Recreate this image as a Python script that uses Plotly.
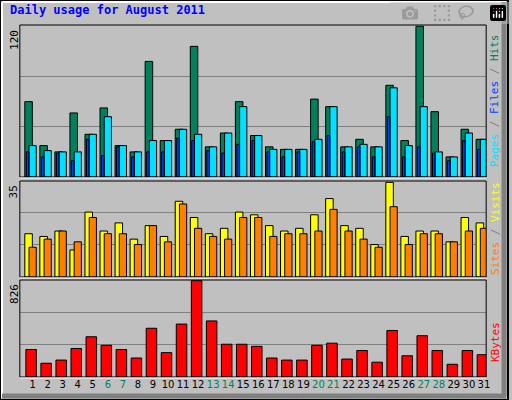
import plotly.graph_objects as go

days = list(range(1, 32))
day_labels = [str(d) for d in days]
weekends = [6, 7, 13, 14, 20, 21, 27, 28]
hits = [60,25,20,51,34,55,25,20,92,29,38,104,24,35,60,33,24,22,22,62,56,24,30,24,73,29,120,52,16,38,30]
files = [25,21,20,20,34,48,25,20,29,29,38,34,24,35,56,33,22,22,22,30,56,24,26,24,71,25,56,20,16,35,30]
pages = [20,16,19,13,30,17,24,16,20,20,31,29,21,19,26,29,20,16,20,28,33,20,24,16,48,16,24,19,13,29,22]
sites = [16,15,17,10,24,17,20,14,19,15,28,22,16,18,24,23,19,17,18,23,29,19,18,12,35,15,17,17,13,22,20]
visits = [11,14,17,13,22,16,16,12,19,13,27,18,15,14,22,22,15,16,16,17,25,17,14,11,26,12,16,16,13,17,18]
kbytes = [236,118,145,245,345,272,236,163,418,209,454,826,481,281,281,263,163,145,145,272,290,154,227,127,399,182,354,227,109,227,191]

BG = "#C0C0C0"
fig = go.Figure()

def bar(y, ax, color, off, w):
    fig.add_trace(go.Bar(x=days, y=y, offset=off, width=w, marker=dict(color=color, line=dict(color="black", width=1)),
                         xaxis="x" + ax, yaxis="y" + ax, showlegend=False, hoverinfo="skip"))

bar(hits, "", "#00805C", -0.52, 0.5)
bar(files, "", "#00E0FF", -0.24, 0.48)
bar(pages, "", "#0040FF", -0.42, 0.17)
bar(sites, "2", "#FFFF00", -0.52, 0.5)
bar(visits, "2", "#FF8000", -0.24, 0.48)
bar(kbytes, "3", "#FF0000", -0.45, 0.7)

xr = [0.15, 31.15]
common_x = dict(range=xr, showgrid=False, zeroline=False, showline=False, fixedrange=True)
ticktext = [f'<span style="color:#00805C">{d}</span>' if d in weekends else str(d) for d in days]
fig.update_layout(
    width=512, height=400, margin=dict(l=0, r=0, t=0, b=0),
    paper_bgcolor=BG, plot_bgcolor=BG, barmode="overlay",
    font=dict(family="DejaVu Sans Mono", size=11, color="black"),
    xaxis=dict(domain=[20/512, 490/512], anchor="y", showticklabels=False, **common_x),
    xaxis2=dict(domain=[20/512, 490/512], anchor="y2", showticklabels=False, **common_x),
    xaxis3=dict(domain=[20/512, 490/512], anchor="y3", tickvals=days, ticktext=ticktext, tickangle=0,
                tickfont=dict(family="DejaVu Sans", size=10), ticks="", ticklen=0, **common_x),
    yaxis=dict(domain=[1-177/400, 1-25/400], range=[0, 121], tickvals=[40, 80], showticklabels=False,
               gridcolor="#808080", zeroline=False, fixedrange=True),
    yaxis2=dict(domain=[1-277/400, 1-181/400], range=[0, 35.5], tickvals=[12, 24], showticklabels=False,
                gridcolor="#808080", zeroline=False, fixedrange=True),
    yaxis3=dict(domain=[1-377/400, 1-280/400], range=[0, 832], tickvals=[275, 550], showticklabels=False,
                gridcolor="#808080", zeroline=False, fixedrange=True),
)

shapes = [
    dict(type="rect", xref="paper", yref="paper", x0=0, x1=1, y0=0, y1=1, line=dict(color="black", width=2)),
    dict(type="line", xref="paper", yref="paper", x0=2/512, x1=2/512, y0=0.005, y1=0.995, line=dict(color="white", width=2)),
    dict(type="line", xref="paper", yref="paper", x0=0.004, x1=0.996, y0=1-2/400, y1=1-2/400, line=dict(color="white", width=2)),
    dict(type="line", xref="paper", yref="paper", x0=0.004, x1=0.996, y0=4/400, y1=4/400, line=dict(color="#808080", width=5)),
    dict(type="line", xref="paper", yref="paper", x0=1-4/512, x1=1-4/512, y0=0.01, y1=0.995, line=dict(color="#808080", width=5)),
]
for lo, hi in [(25, 177), (181, 277), (280, 377)]:
    shapes.append(dict(type="rect", xref="paper", yref="paper", x0=20/512, x1=490/512, y0=1-hi/400, y1=1-lo/400,
                       line=dict(color="black", width=1)))
    shapes.append(dict(type="line", xref="paper", yref="paper", x0=20/512, x1=490/512, y0=1-(hi+1)/400, y1=1-(hi+1)/400,
                       line=dict(color="white", width=1)))
fig.update_layout(shapes=shapes)

anns = [
    dict(text="<b>Daily usage for August 2011</b>", x=8/512, y=1-10/400, xanchor="left", yanchor="middle",
         font=dict(family="DejaVu Sans Mono", size=12, color="#0000FF")),
    dict(text="120", x=14/512, y=1-28/400, textangle=-90, xanchor="center", yanchor="top"),
    dict(text="35", x=14/512, y=1-183/400, textangle=-90, xanchor="center", yanchor="top"),
    dict(text="826", x=14/512, y=1-282/400, textangle=-90, xanchor="center", yanchor="top"),
    dict(text='<span style="color:#00E0FF">Pages</span><span style="color:#808080"> / </span><span style="color:#0040FF">Files</span><span style="color:#808080"> / </span><span style="color:#00805C">Hits</span>',
         x=499/512, y=1-101/400, textangle=-90, xanchor="center", yanchor="middle"),
    dict(text='<span style="color:#FF8000">Sites</span><span style="color:#808080"> / </span><span style="color:#FFFF00">Visits</span>',
         x=499/512, y=1-229/400, textangle=-90, xanchor="center", yanchor="middle"),
    dict(text='<span style="color:#FF0000">KBytes</span>', x=499/512, y=1-342/400, textangle=-90,
         xanchor="center", yanchor="middle"),
]
for a in anns:
    a.update(xref="paper", yref="paper", showarrow=False)
    a.setdefault("font", dict(family="DejaVu Sans Mono", size=11))
fig.update_layout(annotations=anns)

fig.write_html("out.html", post_script="document.body.style.margin='0';")
